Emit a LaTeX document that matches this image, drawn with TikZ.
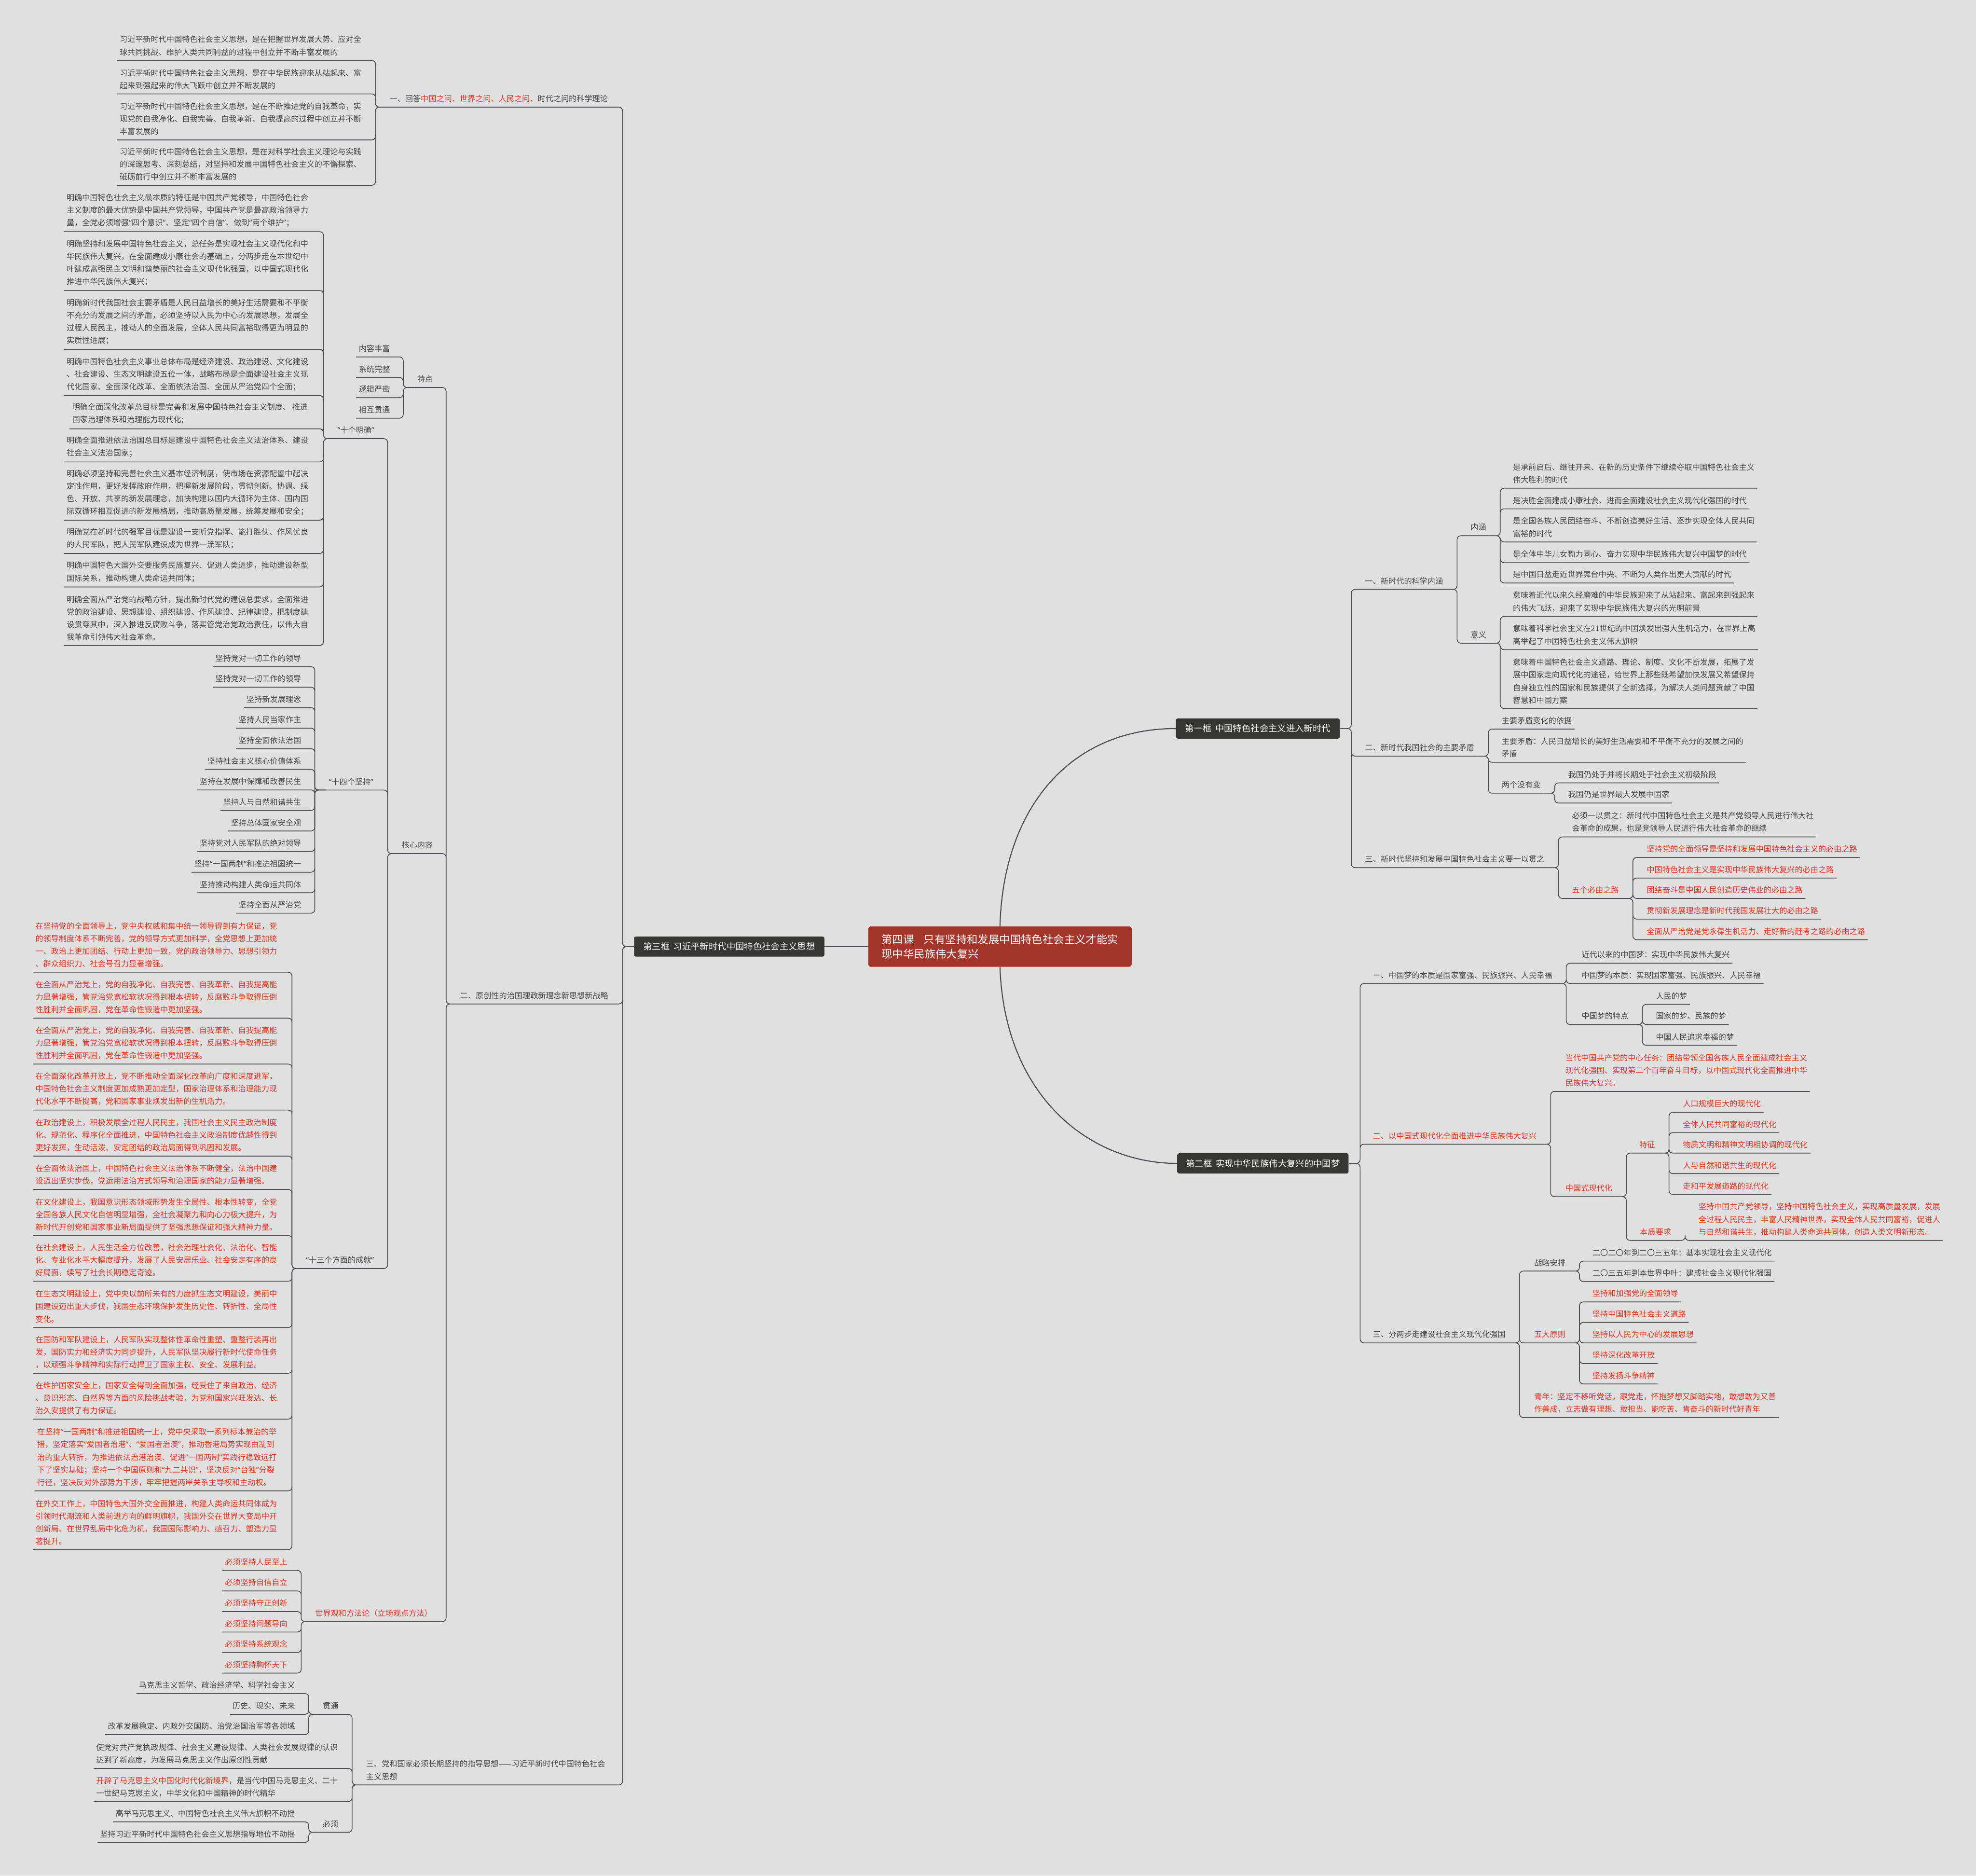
\documentclass[tikz,border=0pt]{standalone}
\usepackage{fontspec}
\setmainfont{Noto Sans CJK SC}
\newfontfamily\latinq{Noto Sans}
\newcommand{\qL}{{\latinq “}}
\newcommand{\qR}{{\latinq ”}}
\definecolor{bgc}{HTML}{E0E0E0}
\definecolor{inkc}{HTML}{454545}
\definecolor{linec}{HTML}{4D4D52}
\definecolor{redc}{HTML}{E0301E}
\definecolor{hubc}{HTML}{363632}
\definecolor{rootc}{HTML}{A4352A}
\begin{document}
\begin{tikzpicture}[x=0.05cm, y=-0.05cm,
    txt/.style={font=\fontsize{8.8}{14.2}\selectfont, text=inkc, align=left,
                inner xsep=0.1cm, inner ysep=5.2pt},
    tl/.style={txt, anchor=south west},
    tr/.style={txt, anchor=south east, align=right},
    hl/.style={text=redc},
    hub/.style={fill=hubc, text=white, rounded corners=2pt, anchor=west,
                font=\fontsize{10}{12}\selectfont, minimum height=0.8cm, inner xsep=0pt},
    root/.style={fill=rootc, text=white, rounded corners=2.5pt, align=left,
                 font=\fontsize{12.2}{16}\selectfont, minimum width=10.45cm, minimum height=1.6cm},
    ln/.style={draw=linec, line width=0.9pt, rounded corners=0.15cm},
    arc/.style={draw=linec, line width=1.2pt},
    lt/.style={to path={(\tikztostart.south west) -- ++(-9,0) |- (\tikztotarget.south east) -- (\tikztotarget.south west)}},
    rt/.style={to path={(\tikztostart.south east) -- ++(9,0) |- (\tikztotarget.south west) -- (\tikztotarget.south east)}},
    lh/.style={to path={(\tikztostart.west) -- ++(-9,0) |- (\tikztotarget.south east) -- (\tikztotarget.south west)}},
    rh/.style={to path={(\tikztostart.east) -- ++(9,0) |- (\tikztotarget.south west) -- (\tikztotarget.south east)}}
]
    \useasboundingbox (0,0) rectangle (1568,1488);
    \fill[bgc] (0,0) rectangle (1568,1488);

    % centre and the three frames
    \node[root] (root) at (793.5,751) {第四课\hspace{0.9em}只有坚持和发展中国特色社会主义才能实\\现中华民族伟大复兴};
    \node[hub, minimum width=7.55cm] (k3) at (503,751) {第三框\hspace{0.4em}习近平新时代中国特色社会主义思想};
    \node[hub, minimum width=6.5cm] (k1) at (933,578) {第一框\hspace{0.4em}中国特色社会主义进入新时代};
    \node[hub, minimum width=6.8cm] (k2) at (934,923) {第二框\hspace{0.4em}实现中华民族伟大复兴的中国梦};

    % frame three, part one
    \node[tl] (q1) at (307,85) {一、回答\textcolor{redc}{中国之问、世界之问、人民之问、}时代之问的科学理论};
    \node[tl] (q1a) at (92.8,48) {习近平新时代中国特色社会主义思想，是在把握世界发展大势、应对全\\球共同挑战、维护人类共同利益的过程中创立并不断丰富发展的};
    \node[tl] (q1b) at (92.8,74.5) {习近平新时代中国特色社会主义思想，是在中华民族迎来从站起来、富\\起来到强起来的伟大飞跃中创立并不断发展的};
    \node[tl] (q1c) at (92.8,111) {习近平新时代中国特色社会主义思想，是在不断推进党的自我革命，实\\现党的自我净化、自我完善、自我革新、自我提高的过程中创立并不断\\丰富发展的};
    \node[tl] (q1d) at (92.8,147) {习近平新时代中国特色社会主义思想，是在对科学社会主义理论与实践\\的深邃思考、深刻总结，对坚持和发展中国特色社会主义的不懈探索、\\砥砺前行中创立并不断丰富发展的};

    % frame three, part two
    \node[tl] (q2) at (363,796.5) {二、原创性的治国理政新理念新思想新战略};
    \node[tl] (td) at (329,307.4) {特点};
    \node[tl] (td1) at (282.6,283.2) {内容丰富};
    \node[tl] (td2) at (282.6,299.5) {系统完整};
    \node[tl] (td3) at (282.6,315.5) {逻辑严密};
    \node[tl] (td4) at (282.6,331.8) {相互贯通};
    \node[tl] (hx) at (316.6,677.2) {核心内容};
    \node[tl] (mq) at (265.7,348) {\qL 十个明确\qR};
    \node[tl] (mq1) at (50.7,183.8) {明确中国特色社会主义最本质的特征是中国共产党领导，中国特色社会\\主义制度的最大优势是中国共产党领导，中国共产党是最高政治领导力\\量，全党必须增强\qL 四个意识\qR、坚定\qL 四个自信\qR、做到\qL 两个维护\qR ；};
    \node[tl] (mq2) at (50.7,230.5) {明确坚持和发展中国特色社会主义，总任务是实现社会主义现代化和中\\华民族伟大复兴，在全面建成小康社会的基础上，分两步走在本世纪中\\叶建成富强民主文明和谐美丽的社会主义现代化强国，以中国式现代化\\推进中华民族伟大复兴；};
    \node[tl] (mq3) at (50.7,277.2) {明确新时代我国社会主要矛盾是人民日益增长的美好生活需要和不平衡\\不充分的发展之间的矛盾，必须坚持以人民为中心的发展思想，发展全\\过程人民民主，推动人的全面发展，全体人民共同富裕取得更为明显的\\实质性进展；};
    \node[tl] (mq4) at (50.7,313.8) {明确中国特色社会主义事业总体布局是经济建设、政治建设、文化建设\\、社会建设、生态文明建设五位一体，战略布局是全面建设社会主义现\\代化国家、全面深化改革、全面依法治国、全面从严治党四个全面；};
    \node[tl] (mq5) at (55.2,340.2) {明确全面深化改革总目标是完善和发展中国特色社会主义制度、 推进\\国家治理体系和治理能力现代化;};
    \node[tl] (mq6) at (50.7,366.5) {明确全面推进依法治国总目标是建设中国特色社会主义法治体系、建设\\社会主义法治国家；};
    \node[tl] (mq7) at (50.7,412.7) {明确必须坚持和完善社会主义基本经济制度，使市场在资源配置中起决\\定性作用，更好发挥政府作用，把握新发展阶段，贯彻创新、协调、绿\\色、开放、共享的新发展理念，加快构建以国内大循环为主体、国内国\\际双循环相互促进的新发展格局，推动高质量发展，统筹发展和安全；};
    \node[tl] (mq8) at (50.7,439.1) {明确党在新时代的强军目标是建设一支听党指挥、能打胜仗、作风优良\\的人民军队，把人民军队建设成为世界一流军队；};
    \node[tl] (mq9) at (50.7,465.7) {明确中国特色大国外交要服务民族复兴、促进人类进步，推动建设新型\\国际关系，推动构建人类命运共同体；};
    \node[tl] (mq10) at (50.7,512.1) {明确全面从严治党的战略方针，提出新时代党的建设总要求，全面推进\\党的政治建设、思想建设、组织建设、作风建设、纪律建设，把制度建\\设贯穿其中，深入推进反腐败斗争，落实管党治党政治责任，以伟大自\\我革命引领伟大社会革命。};
    \node[tl] (jc) at (258.8,626.8) {\qL 十四个坚持\qR};
    \node[tr] (jc1) at (241.1,528.9) {坚持党对一切工作的领导};
    \node[tr] (jc2) at (241.1,545.2) {坚持党对一切工作的领导};
    \node[tr] (jc3) at (241.1,561.4) {坚持新发展理念};
    \node[tr] (jc4) at (241.1,577.7) {坚持人民当家作主};
    \node[tr] (jc5) at (241.1,594.0) {坚持全面依法治国};
    \node[tr] (jc6) at (241.1,610.4) {坚持社会主义核心价值体系};
    \node[tr] (jc7) at (241.1,626.7) {坚持在发展中保障和改善民生};
    \node[tr] (jc8) at (241.1,643.0) {坚持人与自然和谐共生};
    \node[tr] (jc9) at (241.1,659.3) {坚持总体国家安全观};
    \node[tr] (jc10) at (241.1,675.6) {坚持党对人民军队的绝对领导};
    \node[tr] (jc11) at (241.1,692.0) {坚持\qL 一国两制\qR 和推进祖国统一};
    \node[tr] (jc12) at (241.1,708.3) {坚持推动构建人类命运共同体};
    \node[tr] (jc13) at (241.1,724.5) {坚持全面从严治党};
    \node[tl] (cj) at (240.7,1006.4) {\qL 十三个方面的成就\qR};
    \node[tl, hl] (cj1) at (26,771.3) {在坚持党的全面领导上，党中央权威和集中统一领导得到有力保证，党\\的领导制度体系不断完善，党的领导方式更加科学，全党思想上更加统\\一、政治上更加团结、行动上更加一致，党的政治领导力、思想引领力\\、群众组织力、社会号召力显著增强。};
    \node[tl, hl] (cj2) at (26,807.7) {在全面从严治党上，党的自我净化、自我完善、自我革新、自我提高能\\力显著增强，管党治党宽松软状况得到根本扭转，反腐败斗争取得压倒\\性胜利并全面巩固，党在革命性锻造中更加坚强。};
    \node[tl, hl] (cj3) at (26,844.2) {在全面从严治党上，党的自我净化、自我完善、自我革新、自我提高能\\力显著增强，管党治党宽松软状况得到根本扭转，反腐败斗争取得压倒\\性胜利并全面巩固，党在革命性锻造中更加坚强。};
    \node[tl, hl] (cj4) at (26,880.7) {在全面深化改革开放上，党不断推动全面深化改革向广度和深度进军，\\中国特色社会主义制度更加成熟更加定型，国家治理体系和治理能力现\\代化水平不断提高，党和国家事业焕发出新的生机活力。};
    \node[tl, hl] (cj5) at (26,917.2) {在政治建设上，积极发展全过程人民民主，我国社会主义民主政治制度\\化、规范化、程序化全面推进，中国特色社会主义政治制度优越性得到\\更好发挥，生动活泼、安定团结的政治局面得到巩固和发展。};
    \node[tl, hl] (cj6) at (26,943.6) {在全面依法治国上，中国特色社会主义法治体系不断健全，法治中国建\\设迈出坚实步伐，党运用法治方式领导和治理国家的能力显著增强。};
    \node[tl, hl] (cj7) at (26,980.2) {在文化建设上，我国意识形态领域形势发生全局性、根本性转变，全党\\全国各族人民文化自信明显增强，全社会凝聚力和向心力极大提升，为\\新时代开创党和国家事业新局面提供了坚强思想保证和强大精神力量。};
    \node[tl, hl] (cj8) at (26,1016.5) {在社会建设上，人民生活全方位改善，社会治理社会化、法治化、智能\\化、专业化水平大幅度提升，发展了人民安居乐业、社会安定有序的良\\好局面，续写了社会长期稳定奇迹。};
    \node[tl, hl] (cj9) at (26,1053.2) {在生态文明建设上，党中央以前所未有的力度抓生态文明建设，美丽中\\国建设迈出重大步伐，我国生态环境保护发生历史性、转折性、全局性\\变化。};
    \node[tl, hl] (cj10) at (26,1089.5) {在国防和军队建设上，人民军队实现整体性革命性重塑、重整行装再出\\发，国防实力和经济实力同步提升，人民军队坚决履行新时代使命任务\\，以顽强斗争精神和实际行动捍卫了国家主权、安全、发展利益。};
    \node[tl, hl] (cj11) at (26,1125.9) {在维护国家安全上，国家安全得到全面加强，经受住了来自政治、经济\\、意识形态、自然界等方面的风险挑战考验，为党和国家兴旺发达、长\\治久安提供了有力保证。};
    \node[tl, hl] (cj12) at (27.4,1182.8) {在坚持\qL 一国两制\qR 和推进祖国统一上，党中央采取一系列标本兼治的举\\措，坚定落实\qL 爱国者治港\qR 、\qL 爱国者治澳\qR ，推动香港局势实现由乱到\\治的重大转折，为推进依法治港治澳、促进\qL 一国两制\qR 实践行稳致远打\\下了坚实基础；坚持一个中国原则和\qL 九二共识\qR ，坚决反对\qL 台独\qR 分裂\\行径，坚决反对外部势力干涉，牢牢把握两岸关系主导权和主动权。};
    \node[tl, hl] (cj13) at (26,1229.4) {在外交工作上，中国特色大国外交全面推进，构建人类命运共同体成为\\引领时代潮流和人类前进方向的鲜明旗帜，我国外交在世界大变局中开\\创新局、在世界乱局中化危为机，我国国际影响力、感召力、塑造力显\\著提升。};
    \node[tl, hl] (sf) at (248,1286.5) {世界观和方法论（立场观点方法）};
    \node[tr, hl] (sf1) at (230.2,1245.9) {必须坚持人民至上};
    \node[tr, hl] (sf2) at (230.2,1262.2) {必须坚持自信自立};
    \node[tr, hl] (sf3) at (230.2,1278.6) {必须坚持守正创新};
    \node[tr, hl] (sf4) at (230.2,1294.8) {必须坚持问题导向};
    \node[tr, hl] (sf5) at (230.2,1311.0) {必须坚持系统观念};
    \node[tr, hl] (sf6) at (230.2,1327.4) {必须坚持胸怀天下};

    % frame three, part three
    \node[tl] (q3) at (288.4,1416.1) {三、党和国家必须长期坚持的指导思想——习近平新时代中国特色社会\\主义思想};
    \node[tl] (gt) at (254,1360.1) {贯通};
    \node[tr] (gt1) at (236.2,1343.6) {马克思主义哲学、政治经济学、科学社会主义};
    \node[tr] (gt2) at (236.2,1360.1) {历史、现实、未来};
    \node[tr] (gt3) at (236.2,1376.2) {改革发展稳定、内政外交国防、治党治国治军等各领域};
    \node[tl] (q3a) at (74.2,1403) {使党对共产党执政规律、社会主义建设规律、人类社会发展规律的认识\\达到了新高度，为发展马克思主义作出原创性贡献};
    \node[tl] (q3b) at (74.2,1429.3) {\textcolor{redc}{开辟了马克思主义中国化时代化新境界}，是当代中国马克思主义、二十\\一世纪马克思主义，中华文化和中国精神的时代精华};
    \node[tl] (bx) at (254,1453.7) {必须};
    \node[tr] (bx1) at (236.2,1445.4) {高举马克思主义、中国特色社会主义伟大旗帜不动摇};
    \node[tr] (bx2) at (236.2,1461.7) {坚持习近平新时代中国特色社会主义思想指导地位不动摇};

    % frame one
    \node[tl] (n1) at (1081.1,467.6) {一、新时代的科学内涵};
    \node[tl] (nh) at (1164.8,425) {内涵};
    \node[tl] (nh1) at (1198.4,387.3) {是承前启后、继往开来、在新的历史条件下继续夺取中国特色社会主义\\伟大胜利的时代};
    \node[tl] (nh2) at (1198.4,403.7) {是决胜全面建成小康社会、进而全面建设社会主义现代化强国的时代};
    \node[tl] (nh3) at (1198.4,430.0) {是全国各族人民团结奋斗、不断创造美好生活、逐步实现全体人民共同\\富裕的时代};
    \node[tl] (nh4) at (1198.4,446.4) {是全体中华儿女勠力同心、奋力实现中华民族伟大复兴中国梦的时代};
    \node[tl] (nh5) at (1198.4,462.5) {是中国日益走近世界舞台中央、不断为人类作出更大贡献的时代};
    \node[tl] (yy) at (1164.8,510.3) {意义};
    \node[tl] (yy1) at (1198.4,489.1) {意味着近代以来久经磨难的中华民族迎来了从站起来、富起来到强起来\\的伟大飞跃，迎来了实现中华民族伟大复兴的光明前景};
    \node[tl] (yy2) at (1198.4,515.4) {意味着科学社会主义在21世纪的中国焕发出强大生机活力，在世界上高\\高举起了中国特色社会主义伟大旗帜};
    \node[tl] (yy3) at (1198.4,562.1) {意味着中国特色社会主义道路、理论、制度、文化不断发展，拓展了发\\展中国家走向现代化的途径，给世界上那些既希望加快发展又希望保持\\自身独立性的国家和民族提供了全新选择，为解决人类问题贡献了中国\\智慧和中国方案};
    \node[tl] (n2) at (1081.1,599.9) {二、新时代我国社会的主要矛盾};
    \node[tl] (n2a) at (1189.5,578.4) {主要矛盾变化的依据};
    \node[tl] (n2b) at (1189.5,604.8) {主要矛盾：人民日益增长的美好生活需要和不平衡不充分的发展之间的\\矛盾};
    \node[tl] (lg) at (1189.5,629.3) {两个没有变};
    \node[tl] (lg1) at (1242.2,621.1) {我国仍处于并将长期处于社会主义初级阶段};
    \node[tl] (lg2) at (1242.2,637.1) {我国仍是世界最大发展中国家};
    \node[tl] (n3) at (1081.1,688.4) {三、新时代坚持和发展中国特色社会主义要一以贯之};
    \node[tl] (n3a) at (1245.3,664.0) {必须一以贯之：新时代中国特色社会主义是共产党领导人民进行伟大社\\会革命的成果，也是党领导人民进行伟大社会革命的继续};
    \node[tl, hl] (wg) at (1245.3,712.8) {五个必由之路};
    \node[tl, hl] (wg1) at (1304.6,680.3) {坚持党的全面领导是坚持和发展中国特色社会主义的必由之路};
    \node[tl, hl] (wg2) at (1304.6,696.6) {中国特色社会主义是实现中华民族伟大复兴的必由之路};
    \node[tl, hl] (wg3) at (1304.6,712.8) {团结奋斗是中国人民创造历史伟业的必由之路};
    \node[tl, hl] (wg4) at (1304.6,729.2) {贯彻新发展理念是新时代我国发展壮大的必由之路};
    \node[tl, hl] (wg5) at (1304.6,745.5) {全面从严治党是党永葆生机活力、走好新的赶考之路的必由之路};

    % frame two
    \node[tl] (m1) at (1087.3,780.3) {一、中国梦的本质是国家富强、民族振兴、人民幸福};
    \node[tl] (m1a) at (1252.9,764.2) {近代以来的中国梦：实现中华民族伟大复兴};
    \node[tl] (m1b) at (1252.9,780.3) {中国梦的本质：实现国家富强、民族振兴、人民幸福};
    \node[tl] (mt) at (1252.9,812.8) {中国梦的特点};
    \node[tl] (mt1) at (1311.9,796.8) {人民的梦};
    \node[tl] (mt2) at (1311.9,812.8) {国家的梦、民族的梦};
    \node[tl] (mt3) at (1311.9,829.3) {中国人民追求幸福的梦};
    \node[tl, hl] (m2) at (1087.3,907.8) {二、以中国式现代化全面推进中华民族伟大复兴};
    \node[tl, hl] (m2a) at (1240.1,865.9) {当代中国共产党的中心任务：团结带领全国各族人民全面建成社会主义\\现代化强国、实现第二个百年奋斗目标，以中国式现代化全面推进中华\\民族伟大复兴。};
    \node[tl, hl] (sx) at (1240.1,949.4) {中国式现代化};
    \node[tl, hl] (tz) at (1298.7,914.8) {特征};
    \node[tl, hl] (tz1) at (1333.3,882.4) {人口规模巨大的现代化};
    \node[tl, hl] (tz2) at (1333.3,898.6) {全体人民共同富裕的现代化};
    \node[tl, hl] (tz3) at (1333.3,914.8) {物质文明和精神文明相协调的现代化};
    \node[tl, hl] (tz4) at (1333.3,931.1) {人与自然和谐共生的现代化};
    \node[tl, hl] (tz5) at (1333.3,947.6) {走和平发展道路的现代化};
    \node[tl, hl] (bz) at (1299.2,984.1) {本质要求};
    \node[tl, hl] (bz1) at (1345.7,984.1) {坚持中国共产党领导，坚持中国特色社会主义，实现高质量发展，发展\\全过程人民民主，丰富人民精神世界，实现全体人民共同富裕，促进人\\与自然和谐共生，推动构建人类命运共同体，创造人类文明新形态。};
    \node[tl] (m3) at (1087.3,1065.4) {三、分两步走建设社会主义现代化强国};
    \node[tl] (zl) at (1215.3,1008.4) {战略安排};
    \node[tl] (zl1) at (1261.5,1000.5) {二〇二〇年到二〇三五年：基本实现社会主义现代化};
    \node[tl] (zl2) at (1261.5,1016.7) {二〇三五年到本世界中叶：建成社会主义现代化强国};
    \node[tl, hl] (wd) at (1215.3,1065.4) {五大原则};
    \node[tl, hl] (wd1) at (1261.5,1032.9) {坚持和加强党的全面领导};
    \node[tl, hl] (wd2) at (1261.5,1049.2) {坚持中国特色社会主义道路};
    \node[tl, hl] (wd3) at (1261.5,1065.4) {坚持以人民为中心的发展思想};
    \node[tl, hl] (wd4) at (1261.5,1081.8) {坚持深化改革开放};
    \node[tl, hl] (wd5) at (1261.5,1098.0) {坚持发扬斗争精神};
    \node[tl, hl] (qn) at (1215.3,1124.6) {青年：坚定不移听党话，跟党走，怀抱梦想又脚踏实地，敢想敢为又善\\作善成，立志做有理想、敢担当、能吃苦、肯奋斗的新时代好青年};

    % main branches
    \draw[arc] (k3.east) -- (root.west);
    \draw[arc] (root.north) .. controls (796,640) and (850,578) .. (k1.west);
    \draw[arc] (root.south) .. controls (797,870) and (865,923) .. (k2.west);

    % connectors, left side
    \draw[ln] (k3) to[lh] (q1) (k3) to[lh] (q2) (k3) to[lh] (q3);
    \draw[ln] (q1) to[lt] (q1a) (q1) to[lt] (q1b) (q1) to[lt] (q1c) (q1) to[lt] (q1d);
    \draw[ln] (q2) to[lt] (td) (q2) to[lt] (hx) (q2) to[lt] (sf);
    \draw[ln] (td) to[lt] (td1) (td) to[lt] (td2) (td) to[lt] (td3) (td) to[lt] (td4);
    \draw[ln] (hx) to[lt] (mq) (hx) to[lt] (jc) (hx) to[lt] (cj);
    \draw[ln] (mq) to[lt] (mq1) (mq) to[lt] (mq2) (mq) to[lt] (mq3) (mq) to[lt] (mq4) (mq) to[lt] (mq5);
    \draw[ln] (mq) to[lt] (mq6) (mq) to[lt] (mq7) (mq) to[lt] (mq8) (mq) to[lt] (mq9) (mq) to[lt] (mq10);
    \draw[ln] (jc) to[lt] (jc1) (jc) to[lt] (jc2) (jc) to[lt] (jc3) (jc) to[lt] (jc4) (jc) to[lt] (jc5);
    \draw[ln] (jc) to[lt] (jc6) (jc) to[lt] (jc7) (jc) to[lt] (jc8) (jc) to[lt] (jc9);
    \draw[ln] (jc) to[lt] (jc10) (jc) to[lt] (jc11) (jc) to[lt] (jc12) (jc) to[lt] (jc13);
    \draw[ln] (cj) to[lt] (cj1) (cj) to[lt] (cj2) (cj) to[lt] (cj3) (cj) to[lt] (cj4) (cj) to[lt] (cj5);
    \draw[ln] (cj) to[lt] (cj6) (cj) to[lt] (cj7) (cj) to[lt] (cj8) (cj) to[lt] (cj9);
    \draw[ln] (cj) to[lt] (cj10) (cj) to[lt] (cj11) (cj) to[lt] (cj12) (cj) to[lt] (cj13);
    \draw[ln] (sf) to[lt] (sf1) (sf) to[lt] (sf2) (sf) to[lt] (sf3) (sf) to[lt] (sf4) (sf) to[lt] (sf5) (sf) to[lt] (sf6);
    \draw[ln] (q3) to[lt] (gt) (q3) to[lt] (q3a) (q3) to[lt] (q3b) (q3) to[lt] (bx);
    \draw[ln] (gt) to[lt] (gt1) (gt) to[lt] (gt2) (gt) to[lt] (gt3);
    \draw[ln] (bx) to[lt] (bx1) (bx) to[lt] (bx2);

    % connectors, right side
    \draw[ln] (k1) to[rh] (n1) (k1) to[rh] (n2) (k1) to[rh] (n3);
    \draw[ln] (n1) to[rt] (nh) (n1) to[rt] (yy);
    \draw[ln] (nh) to[rt] (nh1) (nh) to[rt] (nh2) (nh) to[rt] (nh3) (nh) to[rt] (nh4) (nh) to[rt] (nh5);
    \draw[ln] (yy) to[rt] (yy1) (yy) to[rt] (yy2) (yy) to[rt] (yy3);
    \draw[ln] (n2) to[rt] (n2a) (n2) to[rt] (n2b) (n2) to[rt] (lg);
    \draw[ln] (lg) to[rt] (lg1) (lg) to[rt] (lg2);
    \draw[ln] (n3) to[rt] (n3a) (n3) to[rt] (wg);
    \draw[ln] (wg) to[rt] (wg1) (wg) to[rt] (wg2) (wg) to[rt] (wg3) (wg) to[rt] (wg4) (wg) to[rt] (wg5);
    \draw[ln] (k2) to[rh] (m1) (k2) to[rh] (m2) (k2) to[rh] (m3);
    \draw[ln] (m1) to[rt] (m1a) (m1) to[rt] (m1b) (m1) to[rt] (mt);
    \draw[ln] (mt) to[rt] (mt1) (mt) to[rt] (mt2) (mt) to[rt] (mt3);
    \draw[ln] (m2) to[rt] (m2a) (m2) to[rt] (sx);
    \draw[ln] (sx) to[rt] (tz) (sx) to[rt] (bz);
    \draw[ln] (tz) to[rt] (tz1) (tz) to[rt] (tz2) (tz) to[rt] (tz3) (tz) to[rt] (tz4) (tz) to[rt] (tz5);
    \draw[ln] (bz) to[rt] (bz1);
    \draw[ln] (m3) to[rt] (zl) (m3) to[rt] (wd) (m3) to[rt] (qn);
    \draw[ln] (zl) to[rt] (zl1) (zl) to[rt] (zl2);
    \draw[ln] (wd) to[rt] (wd1) (wd) to[rt] (wd2) (wd) to[rt] (wd3) (wd) to[rt] (wd4) (wd) to[rt] (wd5);
\end{tikzpicture}
\end{document}
